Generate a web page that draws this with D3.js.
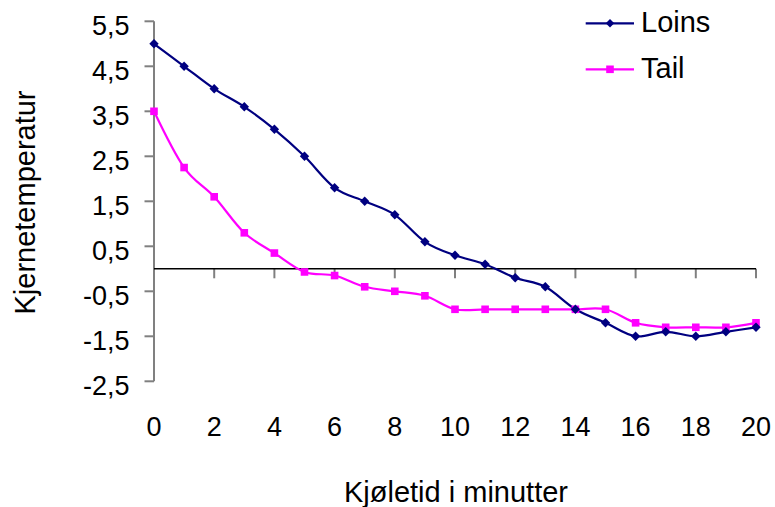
<!DOCTYPE html>
<html>
<head>
<meta charset="utf-8">
<script src="https://cdn.jsdelivr.net/npm/d3@7"></script>
<style>
  html, body { margin: 0; padding: 0; background: #fff; }
  svg { display: block; font-family: "Liberation Sans", Arial, sans-serif; }
</style>
</head>
<body>
<svg id="chart" width="775" height="507"></svg>
<script>
const minutes = [0,1,2,3,4,5,6,7,8,9,10,11,12,13,14,15,16,17,18,19,20];
const loins = [5.0,4.5,4.0,3.6,3.1,2.5,1.8,1.5,1.2,0.6,0.3,0.1,-0.2,-0.4,-0.9,-1.2,-1.5,-1.4,-1.5,-1.4,-1.3];
const tail  = [3.5,2.25,1.6,0.8,0.35,-0.07,-0.15,-0.4,-0.5,-0.6,-0.9,-0.9,-0.9,-0.9,-0.9,-0.9,-1.2,-1.3,-1.3,-1.3,-1.2];
const xTicks = [0,2,4,6,8,10,12,14,16,18,20];
const yTicks = [5.5,4.5,3.5,2.5,1.5,0.5,-0.5,-1.5,-2.5];
const seriesNames = ["Loins","Tail"];
const xTitle = "Kjøletid i minutter";
const yTitle = "Kjernetemperatur";

const svg = d3.select("#chart");
const x = d3.scaleLinear().domain([0,20]).range([154,756]);
const y = d3.scaleLinear().domain([-2.5,5.5]).range([381.3,21.3]);
const fmt = v => String(v).replace(".", ",");

// Y axis
svg.append("line").attr("x1",x(0)).attr("x2",x(0)).attr("y1",y(5.5)).attr("y2",y(-2.5))
  .attr("stroke","#808080").attr("stroke-width",2);
svg.selectAll(".ytick").data(yTicks).enter().append("line")
  .attr("x1",x(0)-9.5).attr("x2",x(0)).attr("y1",d=>y(d)).attr("y2",d=>y(d))
  .attr("stroke","#808080").attr("stroke-width",2);
svg.selectAll(".ylab").data(yTicks).enter().append("text")
  .attr("x",129.5).attr("y",d=>y(d)+13.3).attr("text-anchor","end")
  .attr("font-size",27).attr("fill","#000").text(fmt);

// X axis (at y=0)
svg.selectAll(".xtick").data(xTicks.filter(d=>d>0)).enter().append("line")
  .attr("x1",d=>x(d)).attr("x2",d=>x(d)).attr("y1",y(0)).attr("y2",y(0)+9.5)
  .attr("stroke","#808080").attr("stroke-width",2);
svg.append("line").attr("x1",x(0)).attr("x2",x(20)).attr("y1",y(0)).attr("y2",y(0))
  .attr("stroke","#000").attr("stroke-width",1.5);
svg.selectAll(".xlab").data(xTicks).enter().append("text")
  .attr("x",d=>x(d)).attr("y",436).attr("text-anchor","middle")
  .attr("font-size",27).attr("fill","#000").text(d=>d);

// Titles
svg.append("text").attr("x",456).attr("y",502).attr("text-anchor","middle")
  .attr("font-size",29).text(xTitle);
svg.append("text").attr("transform","translate(35,202.5) rotate(-90)").attr("text-anchor","middle")
  .attr("font-size",29).text(yTitle);

// Series
const line = d3.line().x((d,i)=>x(minutes[i])).y(d=>y(d)).curve(d3.curveCardinal.tension(0));
const colors = ["#000080","#FF00FF"];
const diamond = d3.symbol().type(d3.symbolSquare).size(44);

svg.append("path").datum(loins).attr("d",line).attr("fill","none")
  .attr("stroke",colors[0]).attr("stroke-width",2.2);
svg.append("path").datum(tail).attr("d",line).attr("fill","none")
  .attr("stroke",colors[1]).attr("stroke-width",2.2);

svg.selectAll(".tm").data(tail).enter().append("rect")
  .attr("x",(d,i)=>x(minutes[i])-3.8).attr("y",d=>y(d)-3.8)
  .attr("width",7.6).attr("height",7.6).attr("fill",colors[1]);
svg.selectAll(".lm").data(loins).enter().append("path")
  .attr("d",diamond).attr("transform",(d,i)=>`translate(${x(minutes[i])},${y(d)}) rotate(45)`)
  .attr("fill",colors[0]);

// Legend
const legendY = [23.3, 69.3];
seriesNames.forEach((name,k)=>{
  const g = svg.append("g");
  g.append("line").attr("x1",585.7).attr("x2",634).attr("y1",legendY[k]).attr("y2",legendY[k])
    .attr("stroke",colors[k]).attr("stroke-width",2.2);
  if (k===0) {
    g.append("path").attr("d",d3.symbol().type(d3.symbolSquare).size(36)())
      .attr("transform",`translate(610,${legendY[k]}) rotate(45)`).attr("fill",colors[k]);
  } else {
    g.append("rect").attr("x",610-3.8).attr("y",legendY[k]-3.8).attr("width",7.6).attr("height",7.6)
      .attr("fill",colors[k]);
  }
  g.append("text").attr("x",641).attr("y",legendY[k]+9).attr("font-size",29).text(name);
});
</script>
</body>
</html>
